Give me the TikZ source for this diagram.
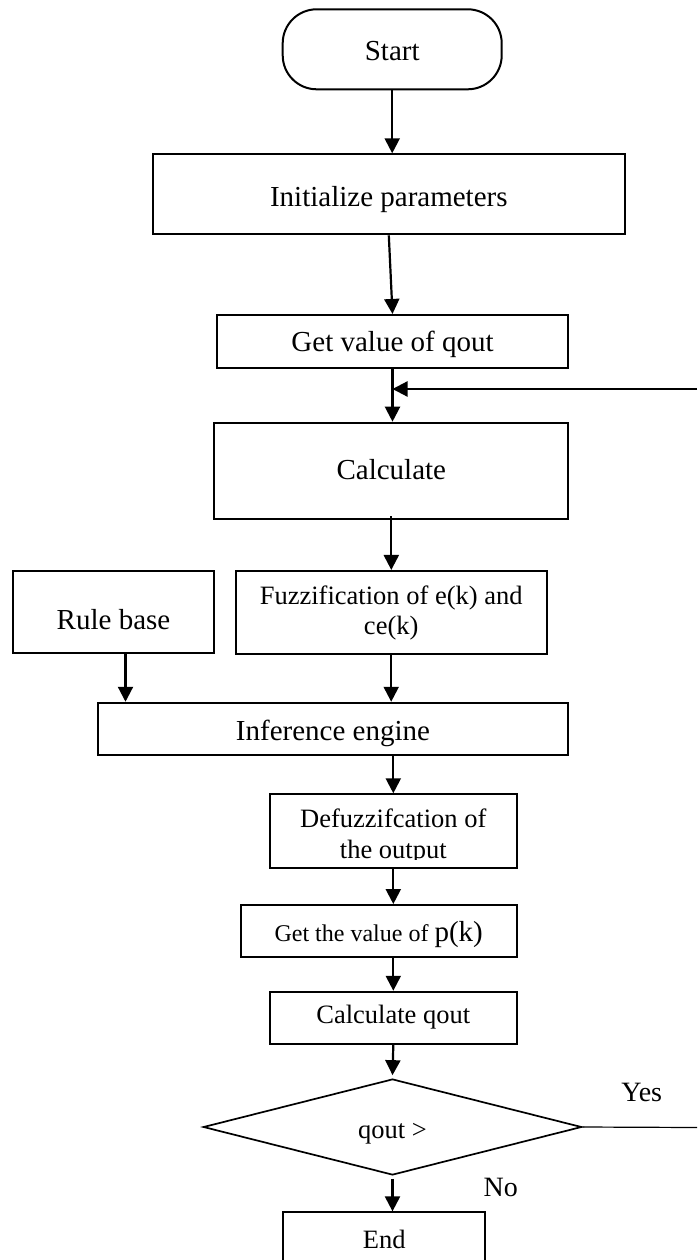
\documentclass[tikz,border=0pt]{standalone}
\usepackage{fontspec}
\setmainfont{Liberation Serif}
\usetikzlibrary{shapes.geometric,arrows.meta}
\begin{document}
\begin{tikzpicture}[x=1pt, y=-1pt, >={Triangle[length=15pt,width=15pt]},
  box/.style={draw, line width=2pt, inner sep=0pt, font=\fontsize{29pt}{33pt}\selectfont},
  smallbox/.style={box, font=\fontsize{26.5pt}{30pt}\selectfont},
  lift/.style={text height=#1, text depth=0pt},
  flow/.style={->, line width=2.2pt}]
\useasboundingbox (0,0) rectangle (697,1260);

\node[box, rounded corners=34pt, minimum width=219pt, minimum height=80pt, lift=22.8pt] (start) at (392.2,49.3) {Start};
\node[box, minimum width=472.3pt, minimum height=80pt, lift=24.8pt] (init) at (388.8,194.3) {Initialize parameters};
\node[box, minimum width=351.6pt, minimum height=52.7pt, lift=20.8pt] (getq) at (392.5,341.3) {Get value of qout};
\node[box, minimum width=354pt, minimum height=96.6pt, lift=16.6pt] (calc) at (391.3,471) {Calculate};
\node[box, minimum width=201.6pt, minimum height=81.7pt, lift=35pt] (rule) at (113.5,611.8) {Rule base};
\node[smallbox, minimum width=311pt, minimum height=83.3pt, align=center] (fuzz) at (391.2,612.6) {Fuzzification of e(k) and\\ce(k)};
\node[box, minimum width=469.4pt, minimum height=52.3pt, lift=22.2pt] (inf) at (333,728.9) {Inference engine};
\node[box, minimum width=246.7pt, minimum height=73.4pt] (defuzz) at (393.3,831) {};
\begin{scope}
  \clip (defuzz.north west) rectangle ([yshift=9.5pt]defuzz.south east);
  \node[align=center, inner sep=0pt, font=\fontsize{26.5pt}{31pt}\selectfont] (defuzztext) at ([yshift=-5pt]defuzz.center) {Defuzzifcation of\\the output};
\end{scope}
\node[box, minimum width=276pt, minimum height=52.3pt, lift=21pt] (getp) at (378.7,931.2) {{\fontsize{24pt}{28pt}\selectfont Get the value of }p(k)};
\node[smallbox, minimum width=246.7pt, minimum height=52.3pt, lift=10.8pt] (calcq) at (393.3,1017.9) {Calculate qout};
\node[smallbox, diamond, line width=1.7pt, minimum width=378.4pt, minimum height=96pt, lift=22.6pt] (dec) at (392.5,1127) {qout >};
\node[smallbox, minimum width=201.7pt, minimum height=52.3pt, lift=19.6pt] (endb) at (384.2,1238.5) {End};

\node[anchor=base, font=\fontsize{28pt}{32pt}\selectfont] (yes) at (641.7,1101.7) {Yes};
\node[anchor=base, font=\fontsize{28pt}{32pt}\selectfont] (no) at (500.7,1196.7) {No};

\coordinate (backin) at (697,389);
\coordinate (yesend) at (697,1127.5);

\draw[flow] (start.south) -- (start.south |- init.north);
\draw[flow] (init.south) -- (getq.north);
\draw[flow] (getq.south) -- (getq.south |- calc.north);
\draw[flow] (backin) -- (backin -| getq.south);
\draw[flow] ([yshift=4pt]calc.south) -- (calc.south |- fuzz.north);
\draw[flow] ([xshift=12pt]rule.south) -- ([xshift=12pt]rule.south |- inf.north);
\draw[flow] (fuzz.south) -- (fuzz.south |- inf.north);
\draw[flow] (defuzz.north |- inf.south) -- (defuzz.north);
\draw[flow] (defuzz.south) -- (defuzz.south |- getp.north);
\draw[flow] (calcq.north |- getp.south) -- (calcq.north);
\draw[flow] (calcq.south) -- ([yshift=3pt]dec.north);
\draw[flow] ([yshift=-3pt]dec.south) -- (dec.south |- endb.north);
\draw[line width=1.2pt] (dec.east) -- (yesend);
\end{tikzpicture}
\end{document}
